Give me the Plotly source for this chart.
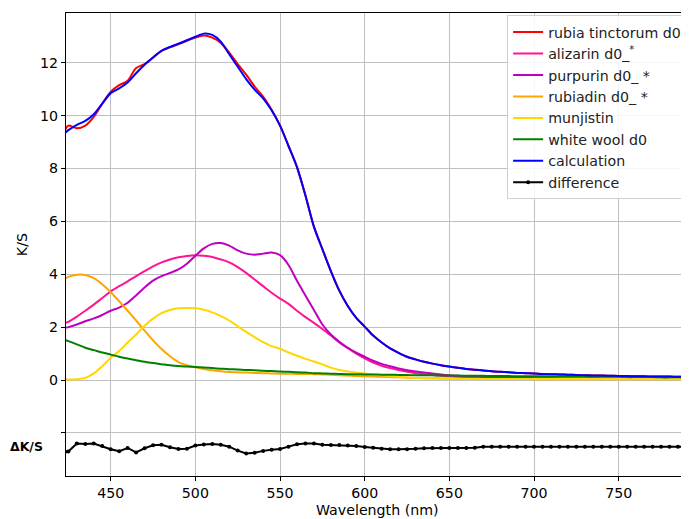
import plotly.graph_objects as go

# ---------------- data ----------------
wavelength = [423] + list(range(425, 800, 5))

rubia = [9.45, 9.62, 9.52, 9.62, 9.95, 10.45, 10.9, 11.15, 11.32, 11.8,
         11.95, 12.2, 12.45, 12.58, 12.7, 12.83, 12.95, 13.03, 12.95, 12.75,
         12.38, 11.95, 11.55, 11.1, 10.72, 10.22, 9.62, 8.85, 8.05, 6.98,
         5.8, 4.95, 4.12, 3.38, 2.8, 2.35, 2.02, 1.68, 1.42, 1.2,
         1.03, 0.88, 0.78, 0.69, 0.62, 0.56, 0.51, 0.46, 0.42, 0.39,
         0.36, 0.33, 0.31, 0.29, 0.27, 0.26, 0.25, 0.23, 0.22, 0.21,
         0.2, 0.19, 0.18, 0.17, 0.17, 0.16, 0.15, 0.15, 0.14, 0.14,
         0.13, 0.13, 0.13, 0.12, 0.12, 0.12]

calculation = [9.35, 9.45, 9.65, 9.8, 10.05, 10.45, 10.85, 11.03, 11.25, 11.6,
               11.92, 12.2, 12.45, 12.6, 12.72, 12.85, 12.98, 13.1, 13.05, 12.8,
               12.32, 11.85, 11.38, 10.98, 10.65, 10.2, 9.62, 8.85, 8.05, 6.98,
               5.8, 4.95, 4.12, 3.38, 2.8, 2.35, 2.02, 1.68, 1.42, 1.2,
               1.03, 0.88, 0.78, 0.69, 0.62, 0.56, 0.51, 0.46, 0.42, 0.39,
               0.36, 0.33, 0.31, 0.29, 0.27, 0.26, 0.25, 0.23, 0.22, 0.21,
               0.2, 0.19, 0.18, 0.17, 0.17, 0.16, 0.15, 0.15, 0.14, 0.14,
               0.13, 0.13, 0.13, 0.12, 0.12, 0.12]

alizarin = [2.15, 2.2, 2.4, 2.62, 2.85, 3.1, 3.35, 3.55, 3.73, 3.93,
            4.12, 4.3, 4.45, 4.56, 4.64, 4.69, 4.72, 4.7, 4.65, 4.56,
            4.45, 4.27, 4.05, 3.8, 3.55, 3.3, 3.08, 2.88, 2.62, 2.38,
            2.16, 1.93, 1.68, 1.42, 1.2, 1.0, 0.82, 0.66, 0.54, 0.45,
            0.38, 0.31, 0.26, 0.22, 0.19, 0.16, 0.14, 0.12, 0.11, 0.1,
            0.09, 0.08, 0.08, 0.07, 0.07, 0.06, 0.06, 0.06, 0.05, 0.05,
            0.05, 0.05, 0.05, 0.05, 0.04, 0.04, 0.04, 0.04, 0.04, 0.04,
            0.04, 0.04, 0.04, 0.04, 0.04, 0.04]

purpurin = [1.97, 2.0, 2.1, 2.22, 2.33, 2.46, 2.62, 2.74, 2.92, 3.2,
            3.5, 3.76, 3.93, 4.05, 4.18, 4.4, 4.7, 4.98, 5.15, 5.18,
            5.08, 4.9, 4.78, 4.74, 4.78, 4.82, 4.72, 4.35, 3.75, 3.2,
            2.65, 2.1, 1.72, 1.45, 1.22, 1.04, 0.88, 0.73, 0.61, 0.52,
            0.44, 0.37, 0.32, 0.28, 0.25, 0.21, 0.18, 0.16, 0.14, 0.12,
            0.11, 0.1, 0.09, 0.09, 0.08, 0.08, 0.07, 0.07, 0.07, 0.06,
            0.06, 0.06, 0.06, 0.06, 0.05, 0.05, 0.05, 0.05, 0.05, 0.05,
            0.05, 0.05, 0.05, 0.05, 0.05, 0.05]

rubiadin = [3.83, 3.9, 3.98, 3.97, 3.85, 3.62, 3.32, 2.98, 2.62, 2.25,
            1.87, 1.5, 1.17, 0.9, 0.68, 0.56, 0.48, 0.42, 0.37, 0.33,
            0.3, 0.29, 0.28, 0.27, 0.26, 0.25, 0.24, 0.24, 0.23, 0.23,
            0.22, 0.21, 0.2, 0.18, 0.17, 0.15, 0.14, 0.13, 0.12, 0.11,
            0.1, 0.09, 0.08, 0.07, 0.07, 0.06, 0.06, 0.05, 0.05, 0.05,
            0.04, 0.04, 0.04, 0.04, 0.04, 0.04, 0.03, 0.03, 0.03, 0.03,
            0.03, 0.03, 0.03, 0.03, 0.03, 0.03, 0.03, 0.03, 0.03, 0.03,
            0.03, 0.03, 0.03, 0.03, 0.03, 0.03]

munjistin = [0.02, 0.02, 0.03, 0.08, 0.25, 0.52, 0.84, 1.1, 1.42, 1.72,
             2.05, 2.32, 2.53, 2.65, 2.71, 2.72, 2.71, 2.66, 2.56, 2.42,
             2.25, 2.03, 1.82, 1.62, 1.43, 1.28, 1.18, 1.04, 0.92, 0.8,
             0.7, 0.59, 0.47, 0.38, 0.32, 0.28, 0.25, 0.21, 0.18, 0.15,
             0.12, 0.1, 0.08, 0.07, 0.06, 0.05, 0.05, 0.04, 0.04, 0.04,
             0.04, 0.04, 0.04, 0.04, 0.04, 0.04, 0.04, 0.04, 0.04, 0.04,
             0.04, 0.04, 0.04, 0.04, 0.04, 0.04, 0.04, 0.04, 0.04, 0.04,
             0.04, 0.04, 0.04, 0.04, 0.04, 0.04]

white_wool = [1.51, 1.47, 1.35, 1.22, 1.13, 1.04, 0.96, 0.88, 0.81, 0.75,
              0.69, 0.64, 0.6, 0.56, 0.53, 0.51, 0.49, 0.47, 0.45, 0.43,
              0.41, 0.4, 0.38, 0.37, 0.35, 0.34, 0.32, 0.31, 0.29, 0.28,
              0.26, 0.25, 0.24, 0.23, 0.22, 0.22, 0.21, 0.21, 0.2, 0.2,
              0.19, 0.19, 0.18, 0.18, 0.18, 0.17, 0.17, 0.17, 0.16, 0.16,
              0.16, 0.15, 0.15, 0.15, 0.14, 0.14, 0.14, 0.14, 0.13, 0.13,
              0.13, 0.13, 0.13, 0.12, 0.12, 0.12, 0.12, 0.11, 0.11, 0.11,
              0.11, 0.1, 0.1, 0.1, 0.1, 0.1]

difference = [-0.21, -0.2, 0.1, 0.08, 0.1, 0.0, -0.12, -0.19, -0.07, -0.24,
              -0.08, 0.03, 0.05, -0.04, -0.11, -0.1, 0.02, 0.06, 0.08, 0.05,
              -0.02, -0.17, -0.28, -0.25, -0.18, -0.14, -0.11, -0.02, 0.07, 0.1,
              0.1, 0.05, 0.04, 0.04, 0.02, 0.0, -0.03, -0.06, -0.1, -0.12,
              -0.12, -0.12, -0.1, -0.08, -0.07, -0.07, -0.07, -0.07, -0.07, -0.06,
              -0.02, -0.02, -0.02, -0.02, -0.02, -0.02, -0.02, -0.02, -0.02, -0.02,
              -0.02, -0.02, -0.02, -0.02, -0.02, -0.02, -0.02, -0.02, -0.02, -0.02,
              -0.02, -0.02, -0.02, -0.02, -0.02, -0.02]
difference_offset = -2.5

series_names = ["rubia tinctorum d0", "alizarin d0_<sup>*</sup>", "purpurin d0_ *",
                "rubiadin d0_ *", "munjistin", "white wool d0", "calculation"]
series_values = [rubia, alizarin, purpurin, rubiadin, munjistin, white_wool, calculation]
series_colors = ["#ff0000", "#ff1493", "#bf00bf", "#ffa500", "#ffd700", "#008000", "#0000ff"]

y_tickvals = [-2, 0, 2, 4, 6, 8, 10, 12]
y_ticktext = [" ", "0", "2", "4", "6", "8", "10", "12"]
x_tickvals = [450, 500, 550, 600, 650, 700, 750]

for s in series_values + [difference]:
    assert len(s) == len(wavelength)

FONT = "DejaVu Sans"
FS = 14.2

fig = go.Figure()
for i, (name, vals, col) in enumerate(zip(series_names, series_values, series_colors)):
    fig.add_trace(go.Scatter(x=wavelength, y=vals, name=name, mode="lines",
                             legendgroup=f"g{i}",
                             line=dict(color=col, width=2, shape="spline", smoothing=0.8)))

fig.add_trace(go.Scatter(x=wavelength, y=[d + difference_offset for d in difference],
                         name="difference", mode="lines+markers", legendgroup="gd",
                         line=dict(color="black", width=2),
                         marker=dict(color="black", size=4)))

# the page body has an 8px default margin, so the figure is 8px smaller
fig.update_layout(
    width=681, height=511,
    margin=dict(l=58, r=0, t=5, b=43),
    plot_bgcolor="white", paper_bgcolor="white",
    font=dict(family=FONT, size=FS, color="black"),
    showlegend=True,
    legend=dict(x=0.997, y=0.995, xanchor="right", yanchor="top",
                bgcolor="rgba(255,255,255,0.85)", bordercolor="#d0d0d0", borderwidth=1,
                font=dict(family=FONT, size=FS, color="#222"),
                itemwidth=30, tracegroupgap=0),
    xaxis=dict(range=[423.6, 791.5], tickvals=x_tickvals, ticks="outside", ticklen=4,
               tickcolor="black", showline=True, linecolor="black", linewidth=1.2,
               mirror=True, showgrid=True, gridcolor="#c0c0c0", gridwidth=1.3,
               zeroline=False),
    yaxis=dict(range=[-3.63, 13.88], tickvals=y_tickvals, ticktext=y_ticktext,
               ticks="outside", ticklen=4, tickcolor="black", showline=True,
               linecolor="black", linewidth=1.2, showgrid=True, gridcolor="#c0c0c0",
               gridwidth=1.3, zeroline=False),
    annotations=[
        dict(text="K/S", xref="paper", yref="y", x=-0.0706, y=5.1, textangle=-90,
             showarrow=False, font=dict(family=FONT, size=FS, color="black"),
             xanchor="center", yanchor="middle"),
        dict(text="Wavelength (nm)", xref="paper", yref="paper", x=0.5, y=-0.0734,
             showarrow=False, font=dict(family=FONT, size=FS, color="black"),
             xanchor="center", yanchor="middle"),
        dict(text="<b>ΔK/S</b>", xref="paper", yref="y", x=-0.064, y=-2.5,
             showarrow=False, font=dict(family=FONT, size=12.5, color="black"),
             xanchor="center", yanchor="middle"),
    ],
)

fig.write_html("out.html")
